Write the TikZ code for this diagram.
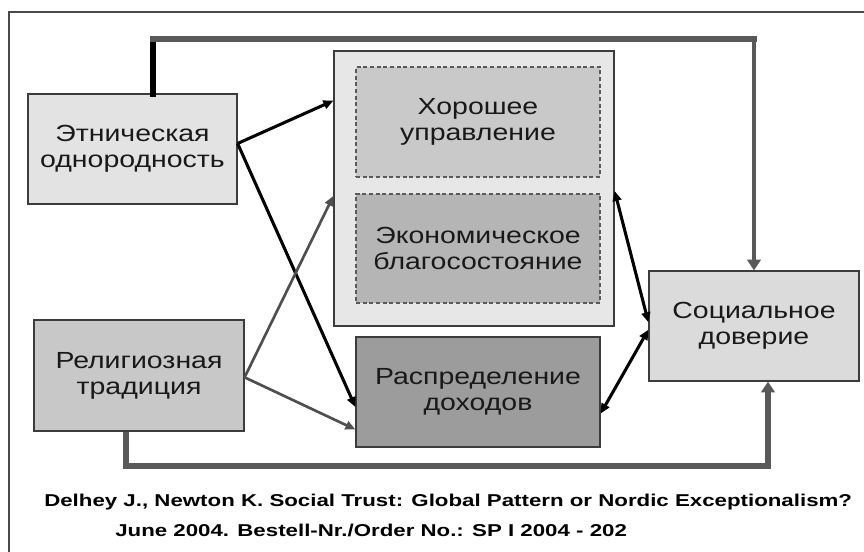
\documentclass[tikz,border=0pt]{standalone}
\usepackage{fontspec}
\setmainfont{Liberation Sans}[FakeStretch=1.22]
\newfontfamily\citefont{Liberation Sans}[FakeStretch=1.3]
\usetikzlibrary{arrows.meta}

\definecolor{frameline}{HTML}{4A4A4A}
\definecolor{boxline}{HTML}{3C3C3C}
\definecolor{dashline}{HTML}{5A5A5A}
\definecolor{linkgrey}{HTML}{4F4F4F}
\definecolor{trunkgrey}{HTML}{595959}
\definecolor{ethfill}{HTML}{E3E3E3}
\definecolor{outerfill}{HTML}{E7E7E7}
\definecolor{govfill}{HTML}{C9C9C9}
\definecolor{ecofill}{HTML}{B5B5B5}
\definecolor{incfill}{HTML}{9C9C9C}
\definecolor{relfill}{HTML}{C8C8C8}
\definecolor{trustfill}{HTML}{DBDBDB}

\tikzset{
    block/.style={draw=boxline, line width=0.9pt, align=center, inner sep=0pt,
        text=black!90, font=\fontsize{17.5}{19.5}\selectfont},
    inblock/.style={block, draw=dashline, dash pattern=on 3pt off 2pt,
        minimum width=183pt, minimum height=82.5pt},
    tip/.tip={Triangle[length=7.5pt,width=6.5pt]},
    bigtip/.tip={Triangle[length=8pt,width=10pt]},
    link/.style={line width=2.3pt, -tip},
    greylink/.style={link, draw=linkgrey, line width=2pt},
    twoway/.style={line width=2.3pt, tip-tip},
    trunk/.style={draw=trunkgrey, line width=5pt},
    cite/.style={anchor=west, inner sep=0pt, font=\citefont\fontsize{12.85}{15}\selectfont\bfseries}
}

\begin{document}
\begin{tikzpicture}[x=0.75pt, y=-0.75pt]
    \useasboundingbox (0,0) rectangle (864,552);
    \draw[frameline, line width=0.8pt] (9,560) -- (9,12) -- (870,12);

    \node[block, fill=outerfill, minimum width=210pt, minimum height=206.25pt] (box) at (474,188.5) {};
    \node[inblock, fill=govfill] (G) at (478,122) {Хорошее\\управление};
    \node[inblock, fill=ecofill, minimum height=81.75pt] (W) at (478,248.5) {Экономическое\\благосостояние};
    \node[block, fill=incfill, minimum width=183pt, minimum height=82.5pt] (I) at (478,392) {Распределение\\доходов};
    \node[block, fill=ethfill, minimum width=156.75pt, minimum height=82.5pt] (E) at (132.5,149) {Этническая\\однородность};
    \node[block, fill=relfill, minimum width=157.5pt, minimum height=83.25pt] (R) at (139,375.5) {Религиозная\\традиция};
    \node[block, fill=trustfill, minimum width=157.5pt, minimum height=82.5pt] (T) at (754,326) {Социальное\\доверие};

    % thick paths round the outside
    \coordinate (Etop) at (153,39);
    \coordinate (Ttop) at (754,39);
    \coordinate (Rbot) at (126,466);
    \coordinate (Tbot) at (768,466);
    \draw[trunk, draw=black, line cap=rect] (E.north -| Etop) -- (Etop);
    \draw[trunk, line cap=rect] (Etop) -- (Ttop);
    \draw[trunk, line width=3pt, -bigtip] (Ttop) -- (T.north);
    \draw[trunk, -bigtip] (R.south -| Rbot) -- (Rbot) -- (Tbot) -- (T.south -| Tbot);

    \draw[link] (E.3) to (box.148);
    \draw[link] (E.3) to (I.187);
    \draw[greylink] (R.359) to (box.183);
    \draw[greylink] (R.359) to (I.197);
    \draw[twoway] (box.359) to (T.178);
    \draw[twoway] (T.182) to (I.350);

    \node[cite] (ref1) at (44,502) {Delhey J., Newton K. Social Trust: Global Pattern or Nordic Exceptionalism?};
    \node[cite] (ref2) at (115,530) {June 2004. Bestell-Nr./Order No.: SP I 2004 - 202};
\end{tikzpicture}
\end{document}
